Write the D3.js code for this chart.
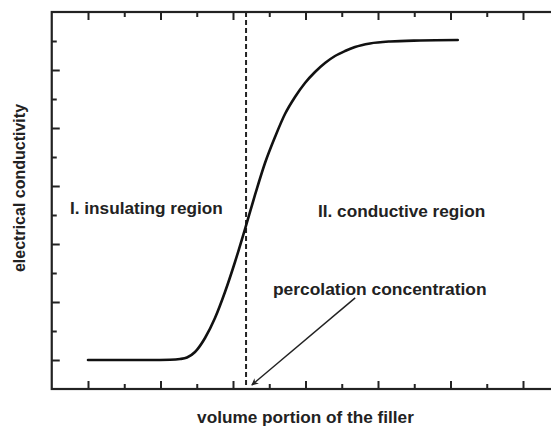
<!DOCTYPE html>
<html>
<head>
<meta charset="utf-8">
<script src="https://cdn.jsdelivr.net/npm/d3@7"></script>
<style>
  html, body { margin: 0; padding: 0; background: #fff; }
  svg { display: block; }
  text { font-family: "Liberation Sans", Arial, Helvetica, sans-serif; font-weight: bold; fill: #222; }
</style>
</head>
<body>
<svg id="chart" width="551" height="430"></svg>
<script>
// ---- data (in axis units) ----
const curveX = [1.000, 2.710, 3.262, 3.538, 3.731, 3.952, 4.228, 4.503, 4.779, 5.055, 5.331, 5.607, 5.883, 6.159, 6.434, 6.710, 6.986, 7.262, 7.538, 7.814, 8.090, 8.366, 8.779, 9.331, 10.159, 11.200];
const curveY = [1.000, 1.000, 1.010, 1.034, 1.086, 1.276, 1.759, 2.448, 3.345, 4.379, 5.517, 6.690, 7.793, 8.690, 9.483, 10.069, 10.552, 10.931, 11.241, 11.483, 11.655, 11.793, 11.914, 11.983, 12.017, 12.034];
const percolationX = 5.36;
const xTicks = [1, 2, 3, 4, 5, 6, 7, 8, 9, 10, 11, 12, 13];
const yTicks = [1, 2, 3, 4, 5, 6, 7, 8, 9, 10, 11, 12];
const arrowFrom = [8.37, 3.14];
const arrowTo = [5.52, 0.14];
const labels = {
  insulating: "I. insulating region",
  conductive: "II. conductive region",
  percolation: "percolation concentration",
  xTitle: "volume portion of the filler",
  yTitle: "electrical conductivity"
};

// ---- layout ----
const svg = d3.select("#chart");
const mLeft = 51.75, mRight = 559.25, mTop = 12, mBottom = 389;
const x = d3.scaleLinear().domain([0, 14]).range([mLeft, mRight]);
const y = d3.scaleLinear().domain([0, 13]).range([mBottom, mTop]);

const ink = "#222";
const major = d => d % 2 === 1;

// defs: arrowhead
svg.append("defs").append("marker")
  .attr("id", "arrow")
  .attr("viewBox", "0 0 10 10")
  .attr("refX", 9).attr("refY", 5)
  .attr("markerWidth", 7).attr("markerHeight", 7)
  .attr("markerUnits", "userSpaceOnUse")
  .attr("orient", "auto")
  .append("path").attr("d", "M0,0 L10,5 L0,10 L3,5 Z").attr("fill", ink);

// axes with inward ticks
function styleAxis(g) {
  g.select(".domain").remove();
  g.selectAll(".tick text").remove();
  g.selectAll(".tick line").attr("stroke", ink).attr("stroke-width", 2);
}
const tickLen = d => major(d) ? 8 : 5;

const gBottom = svg.append("g").attr("transform", `translate(0,${mBottom})`)
  .call(d3.axisBottom(x).tickValues(xTicks).tickSizeInner(0).tickSizeOuter(0)).call(styleAxis);
gBottom.selectAll(".tick line").attr("y2", d => -tickLen(d));

const gTop = svg.append("g").attr("transform", `translate(0,${mTop})`)
  .call(d3.axisTop(x).tickValues(xTicks).tickSizeInner(0).tickSizeOuter(0)).call(styleAxis);
gTop.selectAll(".tick line").attr("y2", d => tickLen(d));

const gLeft = svg.append("g").attr("transform", `translate(${mLeft},0)`)
  .call(d3.axisLeft(y).tickValues(yTicks).tickSizeInner(0).tickSizeOuter(0)).call(styleAxis);
gLeft.selectAll(".tick line").attr("x2", d => tickLen(d));

const gRight = svg.append("g").attr("transform", `translate(${mRight},0)`)
  .call(d3.axisRight(y).tickValues(yTicks).tickSizeInner(0).tickSizeOuter(0)).call(styleAxis);
gRight.selectAll(".tick line").attr("x2", d => -tickLen(d));

// frame
svg.append("rect")
  .attr("x", mLeft).attr("y", mTop)
  .attr("width", mRight - mLeft).attr("height", mBottom - mTop)
  .attr("fill", "none").attr("stroke", ink).attr("stroke-width", 2.2);

// percolation dashed line
svg.append("line")
  .attr("x1", x(percolationX)).attr("x2", x(percolationX))
  .attr("y1", y(13)).attr("y2", y(0))
  .attr("stroke", ink).attr("stroke-width", 2)
  .attr("stroke-dasharray", "5,3");

// curve
const pts = curveX.map((v, i) => [v, curveY[i]]);
svg.append("path")
  .datum(pts)
  .attr("fill", "none")
  .attr("stroke", "#111")
  .attr("stroke-width", 2.6)
  .attr("stroke-linecap", "round")
  .attr("d", d3.line().x(d => x(d[0])).y(d => y(d[1])).curve(d3.curveMonotoneX));

// arrow
svg.append("line")
  .attr("x1", x(arrowFrom[0])).attr("y1", y(arrowFrom[1]))
  .attr("x2", x(arrowTo[0])).attr("y2", y(arrowTo[1]))
  .attr("stroke", ink).attr("stroke-width", 1.5)
  .attr("marker-end", "url(#arrow)");

// labels
svg.append("text").attr("x", 70).attr("y", 214).attr("font-size", 17.2).text(labels.insulating);
svg.append("text").attr("x", 318).attr("y", 217).attr("font-size", 17.2).text(labels.conductive);
svg.append("text").attr("x", 273).attr("y", 295).attr("font-size", 17.4).text(labels.percolation);
svg.append("text").attr("x", (mLeft + mRight) / 2).attr("y", 423)
  .attr("text-anchor", "middle").attr("font-size", 17.2).text(labels.xTitle);
svg.append("text")
  .attr("transform", "translate(25,188) rotate(-90)")
  .attr("text-anchor", "middle").attr("font-size", 16).text(labels.yTitle);
</script>
</body>
</html>
